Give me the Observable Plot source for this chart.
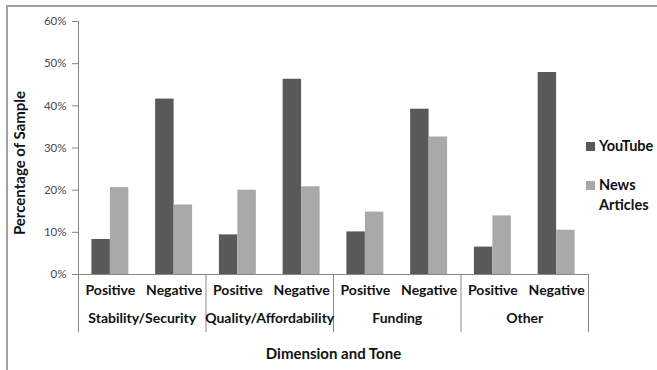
<!DOCTYPE html>
<html>
<head>
<meta charset="utf-8">
<script src="https://cdn.jsdelivr.net/npm/d3@7"></script>
<script src="https://cdn.jsdelivr.net/npm/@observablehq/plot@0.6"></script>
<style>
  html, body { margin: 0; padding: 0; background: #fff; }
  #wrap { position: relative; width: 657px; height: 370px; overflow: hidden; font-family: Lato, sans-serif; }
  #border { position: absolute; left: 6px; top: 5px; width: 700px; height: 400px;
            border-top: 2px solid #a0a0a0; border-left: 2px solid #a0a0a0; box-sizing: border-box; }
  #wrap > svg { position: absolute; left: 0; top: 0; overflow: visible; }
</style>
</head>
<body>
<div id="wrap"><div id="border"></div></div>
<script>
const groups = ["Stability/Security", "Quality/Affordability", "Funding", "Other"];
const tones = ["Positive", "Negative"];
const series = ["YouTube", "News Articles"];
const colors = ["#595959", "#a9a9a9"];
// order: group-major, then tone (Positive, Negative)
const youtube = [0.083, 0.416, 0.094, 0.463, 0.101, 0.392, 0.065, 0.479];
const news    = [0.206, 0.165, 0.200, 0.208, 0.148, 0.326, 0.139, 0.105];
const yTicks = [0, 0.1, 0.2, 0.3, 0.4, 0.5, 0.6];

const slots = [];
groups.forEach((g, gi) => tones.forEach((t, ti) => slots.push({group: g, tone: t, slot: gi * tones.length + ti})));
const rows = [];
slots.forEach((s, i) => {
  rows.push({...s, series: series[0], value: youtube[i]});
  rows.push({...s, series: series[1], value: news[i]});
});
const groupRows = groups.map((g, gi) => ({group: g, mid: gi * tones.length + tones.length / 2}));
const boundaries = groups.map((g, gi) => gi * tones.length).concat([slots.length]);

const font = "Lato, sans-serif";
const chart = Plot.plot({
  width: 657,
  height: 370,
  marginLeft: 78,
  marginRight: 69,
  marginTop: 21,
  marginBottom: 96,
  style: {fontFamily: font, background: "transparent", overflow: "visible"},
  x: {domain: [0, slots.length], axis: null},
  y: {domain: [0, 0.6], axis: null},
  marks: [
    Plot.axisY({ticks: yTicks, tickFormat: d3.format(".0%"), tickSize: 6, tickPadding: 6,
      stroke: "#868686", fill: "#4a4a4a", fontSize: 11.5, label: null}),
    Plot.rectY(rows.filter(d => d.series === series[0]), {
      x1: "slot", x2: d => d.slot + 1, y: "value", fill: colors[0], insetLeft: 13.4, insetRight: 31.9}),
    Plot.rectY(rows.filter(d => d.series === series[1]), {
      x1: "slot", x2: d => d.slot + 1, y: "value", fill: colors[1], insetLeft: 31.9, insetRight: 13.4}),
    Plot.ruleX([0], {stroke: "#868686"}),
    Plot.ruleY([0], {stroke: "#868686"}),
    Plot.ruleX(boundaries, {stroke: "#868686", insetTop: 253, insetBottom: -58}),
    Plot.text(slots, {x: d => d.slot + 0.5, text: "tone", frameAnchor: "bottom", dy: 20,
      fontWeight: "bold", fontSize: 14, fill: "#111"}),
    Plot.text(groupRows, {x: "mid", text: "group", frameAnchor: "bottom", dy: 48,
      fontWeight: "bold", fontSize: 14, fill: "#111"}),
    Plot.text(["Dimension and Tone"], {frameAnchor: "bottom", dy: 84.5,
      fontWeight: "bold", fontSize: 15, fill: "#111"}),
    Plot.text(["Percentage of Sample"], {frameAnchor: "left", textAnchor: "middle", rotate: -90, dx: -58, dy: 15,
      fontWeight: "bold", fontSize: 15, fill: "#111"})
  ]
});
const wrap = document.getElementById("wrap");
wrap.appendChild(chart);

// legend (right side)
const ns = "http://www.w3.org/2000/svg";
const leg = document.createElementNS(ns, "svg");
leg.setAttribute("width", 657);
leg.setAttribute("height", 370);
leg.style.fontFamily = font;
const legendLines = [["YouTube"], ["News", "Articles"]];
const baselines = [151, 190];
series.forEach((s, i) => {
  const r = document.createElementNS(ns, "rect");
  r.setAttribute("x", 586); r.setAttribute("y", baselines[i] - 9);
  r.setAttribute("width", 9); r.setAttribute("height", 9);
  r.setAttribute("fill", colors[i]);
  leg.appendChild(r);
  legendLines[i].forEach((line, j) => {
    const t = document.createElementNS(ns, "text");
    t.setAttribute("x", 599); t.setAttribute("y", baselines[i] + 20 * j);
    t.setAttribute("font-weight", "bold"); t.setAttribute("font-size", 14.5);
    t.setAttribute("fill", "#111");
    t.textContent = line;
    leg.appendChild(t);
  });
});
wrap.appendChild(leg);
</script>
</body>
</html>
